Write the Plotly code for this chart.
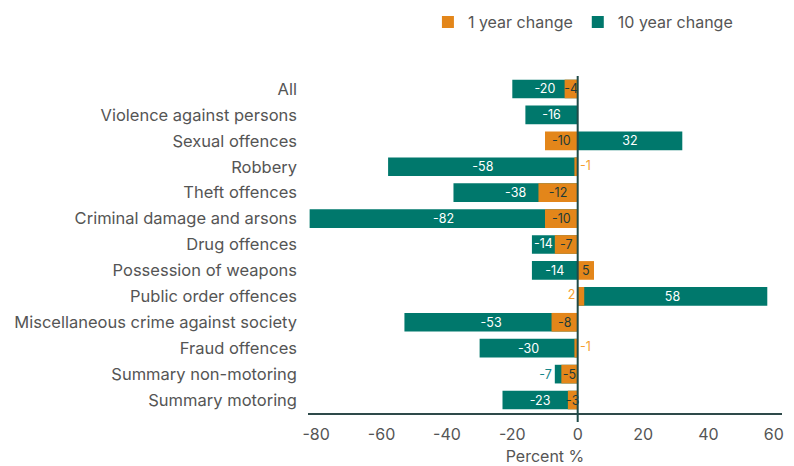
import plotly.graph_objects as go

categories = ["All", "Violence against persons", "Sexual offences", "Robbery", "Theft offences",
              "Criminal damage and arsons", "Drug offences", "Possession of weapons",
              "Public order offences", "Miscellaneous crime against society", "Fraud offences",
              "Summary non-motoring", "Summary motoring"]
ten_year = [-20, -16, 32, -58, -38, -82, -14, -14, 58, -53, -30, -7, -23]
one_year = [-4, None, -10, -1, -12, -10, -7, 5, 2, -8, -1, -5, -3]
tick_vals = [-80, -60, -40, -20, 0, 20, 40, 60]
tick_text = ["-80", "-60", "-40", "-20", "0", "20", "40", "60"]

TEAL = "#00786C"
ORANGE = "#E3861A"
ORANGE_LIGHT = "#F59E2E"
FONT = "Inter"
GREY = "#555555"
LBL = 12.5


def outside(t):
    return abs(t) < 10


def crowded(t, o):
    # inside 10-year label would sit under the 1-year bar
    return (not outside(t)) and o is not None and t * o > 0 and abs(o) > abs(t) / 2 - 4


ten_text, shift_y, shift_x, shift_t = [], [], [], []
for c, t, o in zip(categories, ten_year, one_year):
    if crowded(t, o):
        ten_text.append("")
        shift_y.append(c)
        shift_x.append((t + o) / 2)
        shift_t.append(str(t))
    else:
        ten_text.append(str(t))

small_1y = [(c, v) for c, v in zip(categories, one_year) if v is not None and abs(v) < 3]

fig = go.Figure()
fig.add_trace(go.Bar(
    y=categories, x=ten_year, orientation="h", name="10 year change",
    marker=dict(color=TEAL, line=dict(width=0)),
    text=ten_text, textposition=["outside" if outside(v) else "inside" for v in ten_year],
    insidetextanchor="middle", constraintext="none", textangle=0,
    insidetextfont=dict(color="white", size=LBL, family=FONT),
    outsidetextfont=dict(color="#17878A", size=LBL, family=FONT),
    width=0.72, cliponaxis=False,
))
fig.add_trace(go.Bar(
    y=categories, x=one_year, orientation="h", name="1 year change",
    marker=dict(color=ORANGE, line=dict(width=0)),
    text=["" if (v is None or abs(v) < 3) else str(v) for v in one_year], textposition="inside",
    insidetextanchor="middle", constraintext="none", textangle=0,
    insidetextfont=dict(color="#1E3B38", size=LBL, family=FONT),
    width=0.72, cliponaxis=False,
))
# 10-year labels moved to the visible part of the teal bar
fig.add_trace(go.Scatter(
    y=shift_y, x=shift_x, mode="text", text=shift_t, textposition="middle center",
    textfont=dict(color="white", size=LBL, family=FONT),
    showlegend=False, hoverinfo="skip", cliponaxis=False,
))
# labels for the tiny 1-year bars, placed beside the zero line
fig.add_trace(go.Scatter(
    y=[c for c, v in small_1y], x=[0 for c, v in small_1y], mode="text",
    text=[f"\u2009{v}" if v < 0 else f"{v}\u2009" for c, v in small_1y],
    textposition=["middle right" if v < 0 else "middle left" for c, v in small_1y],
    textfont=dict(color=ORANGE_LIGHT, size=LBL, family=FONT),
    showlegend=False, hoverinfo="skip", cliponaxis=False,
))

fig.update_layout(
    width=786, height=458,
    barmode="overlay",
    paper_bgcolor="white", plot_bgcolor="white",
    margin=dict(l=300, r=12, t=68, b=53, autoexpand=False),
    font=dict(family=FONT, size=16.5, color=GREY),
    legend=dict(orientation="h", x=0.253, xanchor="left", y=1.16, yanchor="middle",
                traceorder="reversed", font=dict(size=16, color=GREY)),
    xaxis=dict(range=[-82.5, 62.5], tickvals=tick_vals, ticktext=tick_text, showgrid=False,
               zeroline=False, showline=True, linecolor="#2E4A4A", linewidth=2,
               ticks="", ticklabelstandoff=6, tickfont=dict(size=16, color=GREY),
               title=dict(text="Percent %", font=dict(size=16, color=GREY), standoff=10)),
    yaxis=dict(autorange="reversed", showgrid=False, zeroline=False, ticks="",
               ticklabelstandoff=10, tickfont=dict(size=16.5, color=GREY)),
    shapes=[dict(type="line", xref="x", yref="paper", x0=0, x1=0, y0=-0.027, y1=1,
                 line=dict(color="#1F4A47", width=2), layer="above")],
)

fig.write_html("out.html")
